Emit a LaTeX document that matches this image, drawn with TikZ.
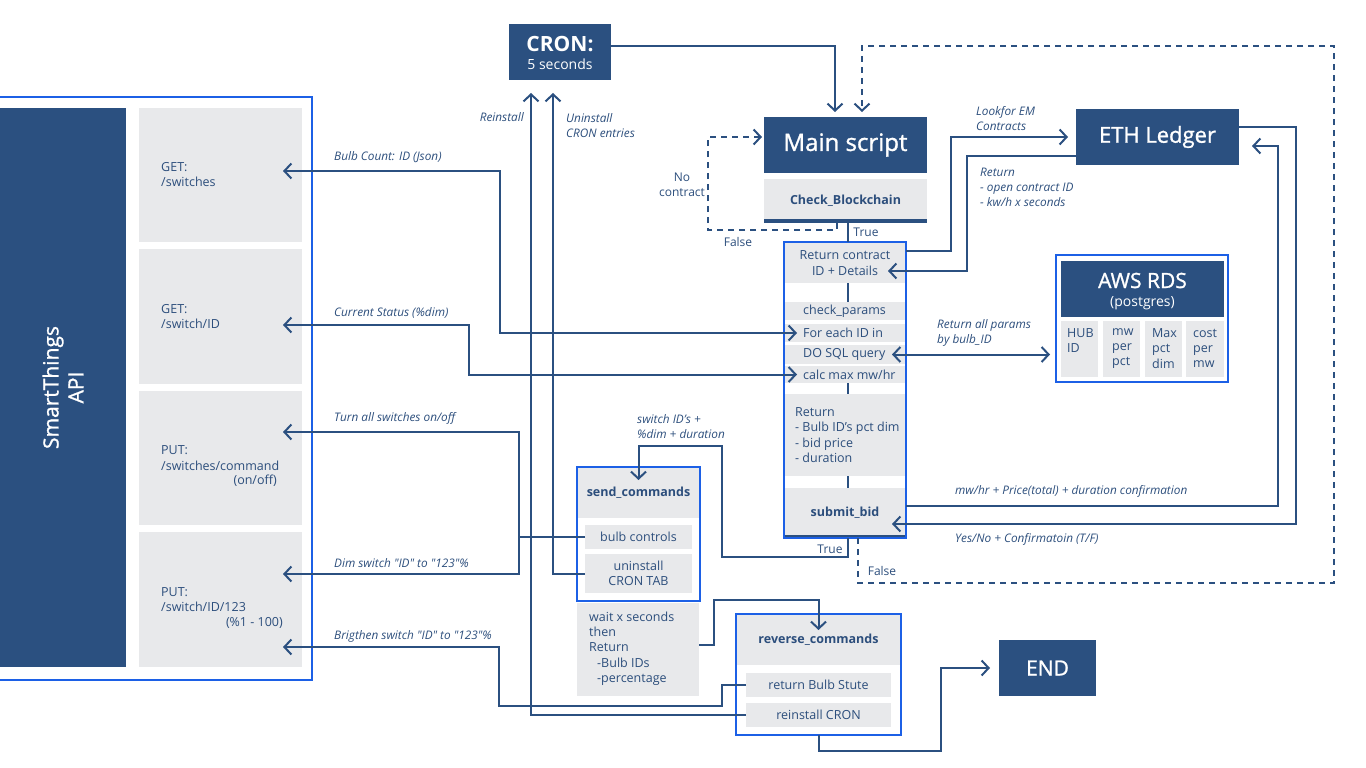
\documentclass[tikz,border=0pt]{standalone}
\usepackage{fontspec}
\setmainfont{Open Sans}[Ligatures=TeXOff]
\newfontfamily\medfont{Open Sans}[Ligatures=TeXOff,FakeBold=1.2]
\usetikzlibrary{arrows.meta}
\definecolor{dkblue}{RGB}{43,80,128}
\definecolor{brblue}{RGB}{28,96,230}
\definecolor{ltgray}{RGB}{232,233,235}
\definecolor{txt}{RGB}{44,78,124}
\newcommand\bx[7]{\node[#1,anchor=north west,minimum width={#5-#3},minimum height={#6-#4}] (#2) at (#3,#4) {#7};}
\begin{document}
\begin{tikzpicture}[x=1pt,y=-1pt,
  font=\fontsize{12.5}{15.3}\selectfont,
  dk/.style={fill=dkblue,draw=none,text=white,inner sep=0,outer sep=0},
  gr/.style={fill=ltgray,draw=none,text=txt,inner sep=0,outer sep=0,align=center},
  ol/.style={draw=brblue,line width=2pt,fill=none,inner sep=0,outer sep=0},
  tl/.style={anchor=west,align=left,inner sep=0,text=txt},
  tu/.style={inner sep=0,text=txt,font=\fontsize{12}{15}\selectfont},
  lab/.style={anchor=west,align=left,inner sep=0,text=txt,font=\fontsize{11.8}{15}\selectfont\itshape},
  conn/.style={draw=dkblue,line width=2pt},
  arr/.style={conn,-{Straight Barb[length=7pt,width=15pt]}},
  arrb/.style={conn,{Straight Barb[length=7pt,width=15pt]}-{Straight Barb[length=7pt,width=15pt]}},
  darr/.style={arr,dash pattern=on 6pt off 5pt}
]
\useasboundingbox (0,0) rectangle (1366,768);

% SmartThings API
\bx{ol}{api}{-5}{97}{312}{680}{}
\bx{dk}{panel}{0}{108}{126}{667}{}
\node[rotate=90,text=white,font=\medfont\fontsize{21}{25}\selectfont,align=center] at (panel.center) {SmartThings\\API};
\bx{gr}{g1}{139}{108}{302}{242}{}
\bx{gr}{g2}{139}{249}{302}{384}{}
\bx{gr}{g3}{139}{391}{302}{525}{}
\bx{gr}{g4}{139}{532}{302}{667}{}
\node[tl] at (161,174.5) {GET:\\/switches};
\node[tl] at (161,316.5) {GET:\\/switch/ID};
\node[tl] at (161,458) {PUT:\\/switches/command};
\node[tl,anchor=east] at (277,481) {(on/off)};
\node[tl] at (161,599.5) {PUT:\\/switch/ID/123};
\node[tl,anchor=east] at (283,623) {(\%1 - 100)};

% CRON
\bx{dk}{cron}{509}{24}{611}{80}{}
\node[text=white,inner sep=0,anchor=base,font=\bfseries\fontsize{21}{24}\selectfont] at (560,52) {CRON:};
\node[text=white,inner sep=0,anchor=base,font=\fontsize{14}{16}\selectfont] at (560,70) {5 seconds};

% Main script
\bx{dk}{main}{764}{117}{927}{173}{\medfont\fontsize{24}{28}\selectfont Main script}
\bx{gr}{chk}{764}{179}{927}{223}{\bfseries Check\_Blockchain}
\fill[dkblue] (764,219) rectangle (927,223);

% main column
\bx{gr}{rcd}{784}{242}{906}{283}{}
\node[tu,align=center,font=\fontsize{12.5}{15.3}\selectfont] at (845,263) {Return contract\\ID + Details};
\bx{gr}{cp}{784}{302}{906}{320}{}
\node[tl] at (803,311) {check\_params};
\bx{gr}{fe}{784}{324}{906}{342}{}
\node[tl] at (803,333) {For each ID in};
\bx{gr}{sql}{784}{345}{906}{364}{}
\node[tl] at (803,354.5) {DO SQL query};
\bx{gr}{calc}{784}{366}{906}{383}{}
\node[tl] at (803,374.5) {calc max mw/hr};
\bx{gr}{ret}{784}{394}{906}{476}{}
\node[tl] at (795,435) {Return\\- Bulb ID’s pct dim\\- bid price\\- duration};
\bx{gr}{sb}{784}{488}{906}{538}{\bfseries submit\_bid}
\fill[dkblue] (784,534.5) rectangle (906,538);
\bx{ol}{big}{784}{242}{906}{538}{}

% ETH
\bx{dk}{eth}{1076}{109}{1239}{165}{\medfont\fontsize{22}{26}\selectfont ETH Ledger}

% AWS
\bx{dk}{awshd}{1061}{261}{1224}{317}{}
\node[text=white,inner sep=0,anchor=base,font=\medfont\fontsize{21}{24}\selectfont] at (1142.5,288) {AWS RDS};
\node[text=white,inner sep=0,anchor=base,font=\fontsize{14}{16}\selectfont] at (1142.5,306) {(postgres)};
\bx{gr}{c1}{1061}{321}{1098}{377}{}
\bx{gr}{c2}{1103}{321}{1140}{377}{}
\bx{gr}{c3}{1145}{321}{1182}{377}{}
\bx{gr}{c4}{1186}{321}{1224}{377}{}
\node[tl] at (1067,340.5) {HUB\\ID};
\node[tl] at (1112,348.5) {mw\\per\\pct};
\node[tl] at (1152,348.5) {Max\\pct\\dim};
\node[tl] at (1193,348.5) {cost\\per\\mw};
\bx{ol}{aws}{1056}{255}{1228}{382}{}

% send_commands
\bx{gr}{sendhd}{577}{467}{700}{518}{\bfseries send\_commands}
\bx{gr}{bc}{585}{525}{692}{549}{bulb controls}
\bx{gr}{un}{585}{554}{692}{593}{uninstall\\CRON TAB}
\bx{ol}{send}{577}{467}{700}{601}{}
\bx{gr}{wait}{577}{603}{699}{696}{}
\node[tl] at (589,648.5) {wait x seconds\\then\\Return\\\hspace*{8pt}-Bulb IDs\\\hspace*{8pt}-percentage};

% reverse_commands
\bx{gr}{revhd}{736}{614}{901}{665}{\bfseries reverse\_commands}
\bx{gr}{rbs}{746}{673}{891}{697}{return Bulb Stute}
\bx{gr}{rc}{746}{703}{891}{727}{reinstall CRON}
\bx{ol}{rev}{736}{614}{901}{735}{}

% END
\bx{dk}{endn}{999}{640}{1096}{696}{\medfont\fontsize{21}{24}\selectfont END}

% labels
\node[lab] at (334,157) {Bulb Count: ID (Json)};
\node[lab] at (334,313) {Current Status (\%dim)};
\node[lab] at (334,418) {Turn all switches on/off};
\node[lab] at (334,563) {Dim switch "ID" to "123"\%};
\node[lab] at (334,636) {Brigthen switch "ID" to "123"\%};
\node[lab,anchor=east] at (524,117) {Reinstall};
\node[lab] at (566,126) {Uninstall\\CRON entries};
\node[lab] at (976,119) {Lookfor EM\\Contracts};
\node[lab] at (980,187) {Return\\- open contract ID\\- kw/h x seconds};
\node[lab] at (937,332.5) {Return all params\\by bulb\_ID};
\node[lab] at (637,426.5) {switch ID’s +\\\%dim + duration};
\node[lab] at (955,491) {mw/hr + Price(total) + duration confirmation};
\node[lab] at (955,539) {Yes/No + Confirmatoin (T/F)};
\node[tu,align=center] at (682,184.5) {No\\contract};
\node[tu] at (738,242) {False};
\node[tu] at (866,232) {True};
\node[tu] at (830,549) {True};
\node[tu] at (882,571) {False};

% connectors
\draw[arr] ([yshift=6pt]cron.east) -| ([xshift=-10.5pt,yshift=5pt]main.north);
\draw[darr] ([xshift=13pt]sb.south) |- (1334,583) -- (1334,46) -| ([xshift=16.5pt,yshift=5pt]main.north);
\draw[darr] ([xshift=-8.5pt]chk.south) -- ++(0,7) -| (708,137) -- ([xshift=-2pt,yshift=8pt]main.west);
\draw[conn] ([xshift=2.5pt]chk.south) -- ([xshift=3pt]rcd.north);
\draw[conn] ([xshift=3pt]rcd.south) -- ([xshift=3pt]cp.north);
\draw[conn] ([xshift=3pt]calc.south) -- ([xshift=3pt]ret.north);
\draw[conn] ([xshift=3pt]ret.south) -- ([xshift=3pt]sb.north);
\draw[arr] ([yshift=11.5pt]rcd.east) -- (951,251) |- ([xshift=-8pt]eth.west);
\draw[arr] ([yshift=-19pt]eth.west) -| (967,271) -- ([xshift=-18pt,yshift=-8.5pt]rcd.east);
\draw[arr] ([yshift=10pt]eth.east) -| (1296,524) -- ([xshift=-14pt,yshift=-11pt]sb.east);
\draw[arr] ([yshift=7pt]sb.east) -| (1278,146) -- ([xshift=13pt,yshift=-9pt]eth.east);
\draw[arrb] ([xshift=-14pt]sql.east) -- ([xshift=-6pt]aws.west |- sql.east);
\draw[arrb] ([xshift=-19pt,yshift=4pt]g1.east) -| (500,333) -- ([xshift=13pt]fe.west);
\draw[arrb] ([xshift=-19pt,yshift=-8.5pt]g2.east) -| (469,374.5) -- ([xshift=13pt]calc.west);
\draw[conn] (bc.west) -- (519,537);
\draw[arr] (519,537) |- ([xshift=-19pt,yshift=26pt]g3.east);
\draw[arr] (519,537) |- ([xshift=-19pt,yshift=25.5pt]g4.east);
\draw[arr] (rbs.west) -| (722,706) -| (499,647) -- ([xshift=-19pt,yshift=-47.5pt]g4.east);
\draw[arr] (rc.west) -| ([xshift=-29pt,yshift=-13pt]cron.south);
\draw[arr] (un.west) -| ([xshift=-7pt,yshift=-13pt]cron.south);
\draw[arr] ([xshift=3pt]sb.south) |- (722,557) |- (638.5,446) -- ([yshift=-13pt]sendhd.north);
\draw[arr] ([yshift=4.5pt]wait.east) -| (714,600) -| ([yshift=-16pt]revhd.north);
\draw[arr] (rev.south) |- (941,751) |- ([xshift=-9pt]endn.west);
\end{tikzpicture}
\end{document}
